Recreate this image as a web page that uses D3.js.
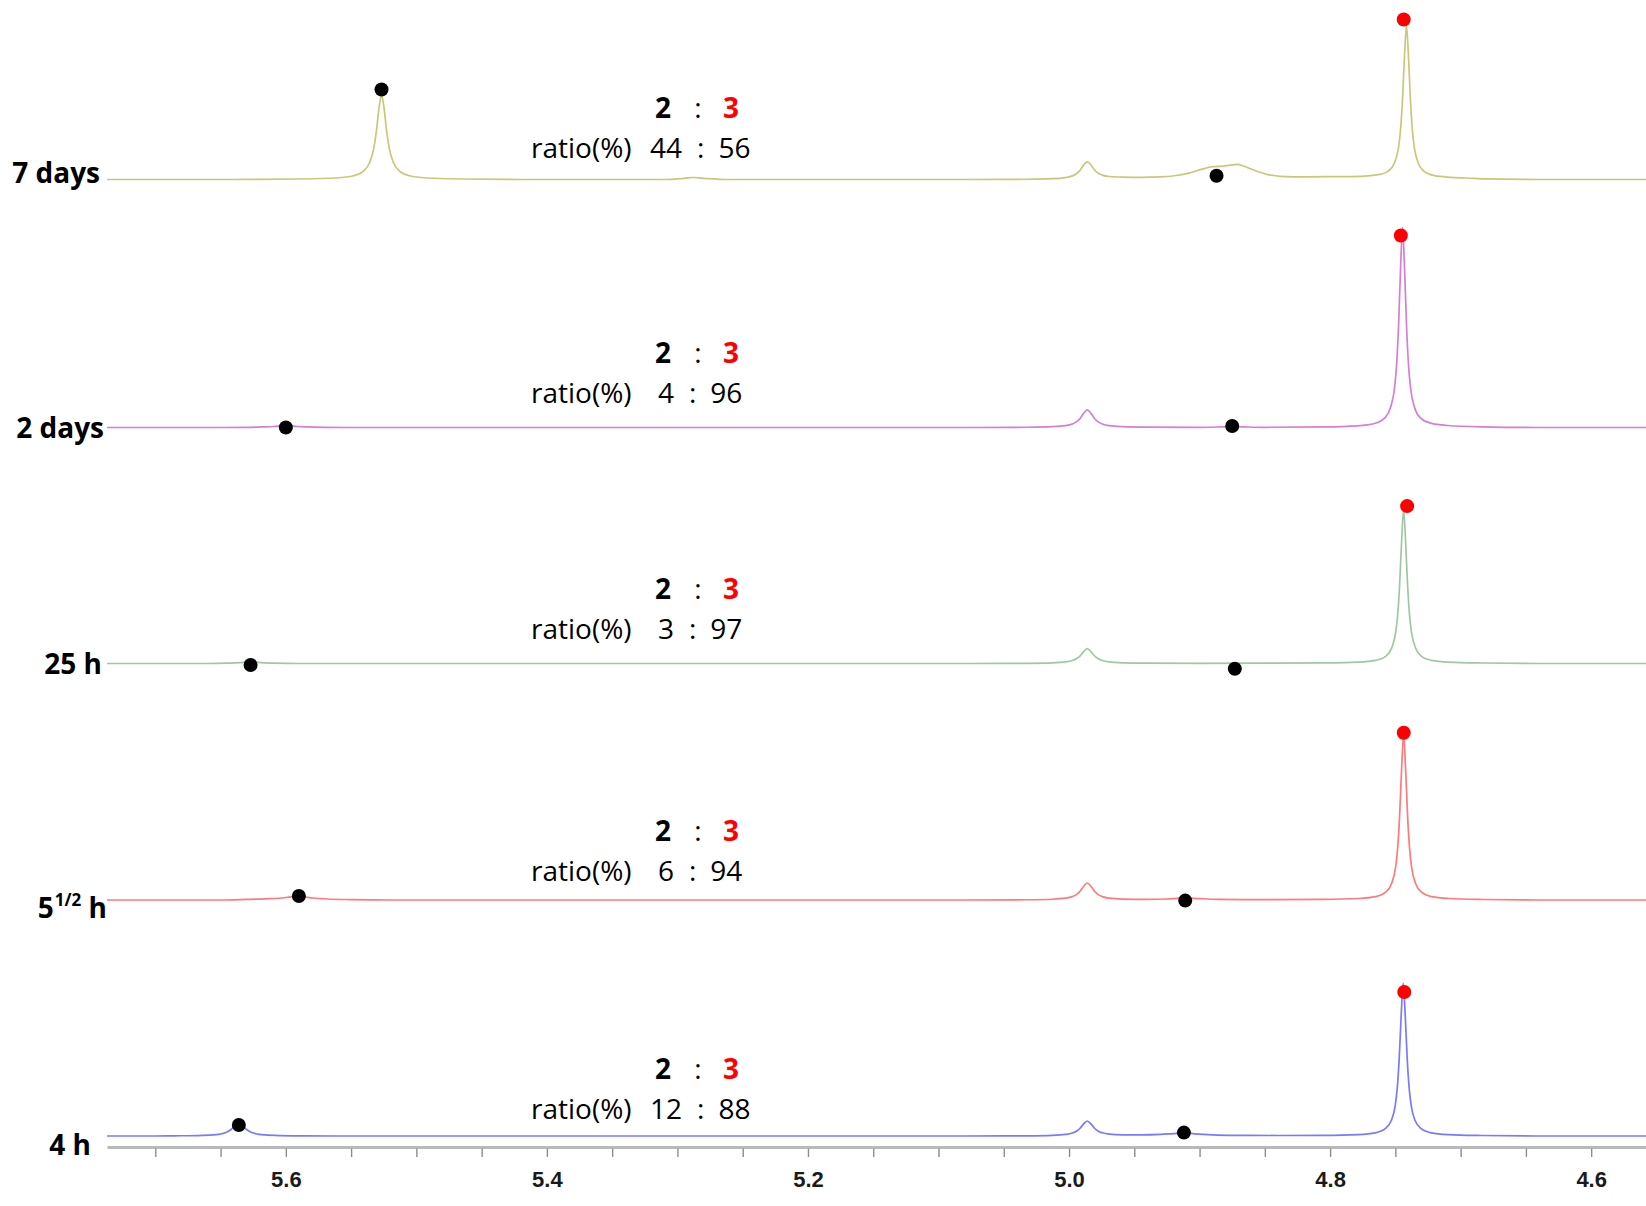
<!DOCTYPE html>
<html>
<head>
<meta charset="utf-8">
<script src="https://cdn.jsdelivr.net/npm/d3@7"></script>
<style>
  body { margin: 0; background: #fff; }
  svg { display: block; background: #fff; }
</style>
</head>
<body>
<div id="vis-container"></div>
<script>
const width = 1646;
const height = 1206;
const margin = { top: 0, right: 0, bottom: 59, left: 107 };

// spectra, top to bottom
const traces = ["7 days", "2 days", "25 h", "5½ h", "4 h"];
const ratio2 = [44, 4, 3, 6, 12];
const ratio3 = [56, 96, 97, 94, 88];

// [ppm, intensity] (intensity: tallest peak = 100)
const spec7d = [[5.737,0],[5.64,0],[5.5877,0.24],[5.5612,0.74],[5.5481,1.85],[5.5405,4.2],[5.5359,8.4],[5.5328,15.1],[5.5305,24.8],[5.5286,35.9],[5.5267,42.2],[5.5248,35.9],[5.5229,24.8],[5.5206,15.1],[5.5175,8.4],[5.5129,4.2],[5.5053,1.85],[5.4922,0.74],[5.4657,0.24],[5.42,0],[5.31,0],[5.295,0.6],[5.288,1.0],[5.28,0.6],[5.265,0],[5.08,0],[5.032,0.13],[5.0128,0.4],[5.0028,0.95],[4.9975,1.8],[4.9944,2.9],[4.9917,4.5],[4.9891,7.0],[4.986,8.8],[4.9829,7.0],[4.9803,4.6],[4.9776,3.1],[4.9745,2.2],[4.9692,1.5],[4.9592,1.2],[4.945,1.1],[4.93,1.3],[4.918,2.0],[4.908,3.2],[4.898,5.2],[4.89,6.4],[4.882,6.7],[4.875,7.3],[4.871,7.6],[4.866,6.6],[4.858,4.6],[4.849,2.7],[4.838,1.6],[4.82,1.3],[4.8025,1.4],[4.776,1.6],[4.7629,2.4],[4.7553,4.3],[4.7507,8.3],[4.7476,16],[4.7461,24.5],[4.7446,39],[4.743,62],[4.7415,77],[4.74,62],[4.7384,39],[4.7369,24.2],[4.7354,15.7],[4.7323,8],[4.7277,3.9],[4.7201,1.9],[4.707,1.1],[4.69,0.6],[4.6805,0.3],[4.64,0],[4.558,0]];
const spec2d = [[5.737,0],[5.65,0],[5.63,0.1],[5.618,0.3],[5.609,0.5],[5.604,0.8],[5.6,1.4],[5.596,0.8],[5.591,0.5],[5.582,0.3],[5.57,0.1],[5.55,0],[5.08,0],[5.032,0.13],[5.0128,0.39],[5.0028,0.92],[4.9975,1.76],[4.9944,2.8],[4.9917,4.4],[4.9891,6.8],[4.986,8.8],[4.9829,6.8],[4.9803,4.4],[4.9776,2.8],[4.9745,1.76],[4.9692,0.92],[4.9592,0.45],[4.94,0.2],[4.9,0.1],[4.875,0.4],[4.85,0.1],[4.8055,0.3],[4.779,0.85],[4.7659,2.0],[4.7583,4.7],[4.7537,10],[4.7506,20],[4.7491,31],[4.7476,50],[4.746,80],[4.7445,100],[4.743,80],[4.7414,50],[4.7399,31],[4.7384,20],[4.7353,10],[4.7307,4.7],[4.7231,2.2],[4.71,1.0],[4.6835,0.3],[4.64,0],[4.558,0]];
const spec25h = [[5.737,0],[5.66,0],[5.645,0.15],[5.635,0.4],[5.63,0.7],[5.627,1.0],[5.624,0.7],[5.619,0.4],[5.609,0.15],[5.59,0],[5.08,0],[5.032,0.11],[5.0128,0.33],[5.0028,0.78],[4.9975,1.5],[4.9944,2.4],[4.9917,3.7],[4.9891,5.7],[4.986,7.4],[4.9829,5.7],[4.9803,3.7],[4.9776,2.4],[4.9745,1.5],[4.9692,0.78],[4.9592,0.35],[4.94,0.15],[4.9,0.1],[4.85,0.15],[4.8047,0.3],[4.7782,0.7],[4.7651,1.6],[4.7575,3.6],[4.7529,7.7],[4.7498,15.4],[4.7483,23.9],[4.7468,38.5],[4.7452,61.6],[4.7437,77],[4.7422,61.6],[4.7406,38.5],[4.7391,23.9],[4.7376,15.4],[4.7345,7.7],[4.7299,3.6],[4.7223,1.6],[4.7092,0.7],[4.6827,0.25],[4.64,0],[4.558,0]];
const spec5h = [[5.737,0],[5.65,0],[5.63,0.3],[5.615,0.6],[5.603,1.0],[5.596,1.6],[5.591,2.0],[5.586,1.6],[5.579,1.0],[5.568,0.5],[5.55,0.2],[5.52,0],[5.08,0],[5.032,0.13],[5.0128,0.38],[5.0028,0.9],[4.9975,1.7],[4.9944,2.7],[4.9917,4.25],[4.9891,6.6],[4.986,8.5],[4.9829,6.6],[4.9803,4.25],[4.9776,2.7],[4.9745,1.7],[4.9692,0.9],[4.9592,0.45],[4.94,0.3],[4.925,0.5],[4.915,0.9],[4.91,1.0],[4.9,0.7],[4.885,0.35],[4.86,0.2],[4.8047,0.3],[4.7782,0.75],[4.7651,1.7],[4.7575,3.9],[4.7529,8.3],[4.7498,16.5],[4.7483,25.6],[4.7468,41.3],[4.7452,66],[4.7437,82.6],[4.7422,66],[4.7406,41.3],[4.7391,25.6],[4.7376,16.5],[4.7345,8.3],[4.7299,3.9],[4.7223,1.7],[4.7092,0.75],[4.6827,0.25],[4.64,0],[4.558,0]];
const spec4h = [[5.737,0],[5.70,0],[5.686,0.09],[5.668,0.22],[5.656,0.54],[5.649,1.14],[5.645,2.0],[5.642,3.25],[5.64,4.5],[5.638,5.85],[5.636,6.5],[5.634,5.85],[5.632,4.5],[5.63,3.25],[5.627,2.0],[5.623,1.14],[5.616,0.54],[5.604,0.22],[5.586,0.09],[5.56,0],[5.08,0],[5.032,0.11],[5.0128,0.34],[5.0028,0.8],[4.9975,1.5],[4.9944,2.4],[4.9917,3.75],[4.9891,5.8],[4.986,7.5],[4.9829,5.8],[4.9803,3.75],[4.9776,2.4],[4.9745,1.6],[4.9692,0.95],[4.9592,0.6],[4.945,0.55],[4.93,0.8],[4.92,1.2],[4.912,1.5],[4.904,1.1],[4.89,0.6],[4.87,0.35],[4.84,0.25],[4.805,0.3],[4.7785,0.7],[4.7654,1.6],[4.7578,3.7],[4.7532,7.6],[4.7501,15.3],[4.7486,23.7],[4.7471,38.2],[4.7455,61],[4.744,76.3],[4.7425,61],[4.7409,38.2],[4.7394,23.7],[4.7379,15.3],[4.7348,7.6],[4.7302,3.7],[4.7226,1.6],[4.7095,0.7],[4.683,0.25],[4.64,0],[4.558,0]];
const spectra = [spec7d, spec2d, spec25h, spec5h, spec4h];

// peak markers [ppm, intensity]: black = compound 2, red = compound 3
const dots2 = [[[5.5267,45],[4.887,1.9]], [[5.600,0],[4.875,0.75]], [[5.627,-0.75],[4.873,-2.6]], [[5.590,2],[4.911,-0.3]], [[5.636,5.5],[4.912,1.7]]];
const dots3 = [[4.7436,80], [4.7458,96], [4.741,78.7], [4.7436,83.6], [4.7432,72]];

// x axis
const tickValues = [5.7, 5.65, 5.6, 5.55, 5.5, 5.45, 5.4, 5.35, 5.3, 5.25, 5.2, 5.15, 5.1, 5.05, 5.0, 4.95, 4.9, 4.85, 4.8, 4.75, 4.7, 4.65, 4.6];
const tickLabels = [5.6, 5.4, 5.2, 5.0, 4.8, 4.6];

// layout of the stacked rows
const baselines = [179.5, 427.5, 663.5, 900, 1136];
const labelEnd = [100, 104, 102, 107, 91];
const labelDy = [3.5, 10.5, 10.5, 18, 19];
const noteY = [108, 353, 589, 831, 1069];

const svg = d3.select("#vis-container")
    .append("svg")
    .attr("width", width)
    .attr("height", height);

const x = d3.scaleLinear()
    .domain([5.737, 4.558])
    .range([margin.left, width - margin.right]);

const base = d3.scaleOrdinal().domain(traces).range(baselines);
const amp = d3.scaleLinear().domain([0, 100]).range([0, 200]);
const colour = d3.scaleOrdinal()
    .domain(traces)
    .range(["#c8c87a", "#d67ed6", "#a0c8a0", "#ff7a7a", "#7a7aff"]);

// Axis
const axisG = svg.append("g")
    .attr("transform", `translate(0,${height - margin.bottom})`)
    .call(d3.axisBottom(x)
        .tickValues(tickValues)
        .tickSize(9)
        .tickSizeOuter(0)
        .tickPadding(15)
        .tickFormat(d => tickLabels.includes(d) ? d3.format(".1f")(d) : ""));
axisG.select(".domain").attr("stroke", "#b9b9b9").attr("stroke-width", 3);
axisG.selectAll(".tick line").attr("stroke", "#8c8c8c").attr("stroke-width", 1.4).attr("y1", 1.5).attr("y2", 10);
axisG.selectAll(".tick text")
    .attr("fill", "#1a1a1a")
    .attr("font-family", "'Liberation Sans Narrow', 'Liberation Sans', sans-serif")
    .attr("font-weight", "bold")
    .attr("font-size", "22px");

// Spectra
traces.forEach((t, i) => {
    const line = d3.line()
        .x(d => x(d[0]))
        .y(d => base(t) - amp(d[1]))
        .curve(d3.curveMonotoneX);

    svg.append("path")
        .datum(spectra[i])
        .attr("fill", "none")
        .attr("stroke", colour(t))
        .attr("stroke-width", 1.7)
        .attr("stroke-linejoin", "round")
        .attr("d", line);

    // black markers
    svg.append("g")
        .selectAll("circle")
        .data(dots2[i])
        .enter()
        .append("circle")
            .attr("cx", d => x(d[0]))
            .attr("cy", d => base(t) - amp(d[1]))
            .attr("r", 7)
            .attr("fill", "#000");

    // red marker
    svg.append("circle")
        .attr("cx", x(dots3[i][0]))
        .attr("cy", base(t) - amp(dots3[i][1]))
        .attr("r", 7)
        .attr("fill", "#ff0000");
});

// Row labels
const font = "'Open Sans', 'Noto Sans', sans-serif";
traces.forEach((t, i) => {
    const lab = svg.append("text")
        .attr("x", labelEnd[i])
        .attr("y", base(t) + labelDy[i])
        .attr("text-anchor", "end")
        .attr("font-family", font)
        .attr("font-weight", "bold")
        .attr("font-size", "28px")
        .attr("fill", "#000");
    if (t === "5½ h") {
        lab.append("tspan").text("5");
        lab.append("tspan").attr("font-size", "17px").attr("dy", -12).attr("dx", 1).text("1/2");
        lab.append("tspan").attr("dy", 12).text(" h");
    } else {
        lab.text(t);
    }
});

// Ratio notes
traces.forEach((t, i) => {
    const g = svg.append("g")
        .attr("font-family", font)
        .attr("font-size", "28px")
        .attr("fill", "#000");
    const y1 = noteY[i];
    const y2 = noteY[i] + 39.5;

    g.append("text").attr("x", 663).attr("y", y1).attr("dy", "0.36em")
        .attr("text-anchor", "middle").attr("font-weight", "bold").text("2");
    g.append("text").attr("x", 698).attr("y", y1).attr("dy", "0.36em")
        .attr("text-anchor", "middle").text(":");
    g.append("text").attr("x", 731).attr("y", y1).attr("dy", "0.36em")
        .attr("text-anchor", "middle").attr("font-weight", "bold").attr("fill", "#ff0000").text("3");

    g.append("text").attr("x", 531).attr("y", y2).attr("dy", "0.36em").text("ratio(%)");
    const n1 = g.append("text").attr("x", 666).attr("y", y2).attr("dy", "0.36em")
        .attr("text-anchor", "middle").text(ratio2[i]);
    const w1 = n1.node().getComputedTextLength();
    const colonX = 666 + w1 / 2 + 15;
    const c = g.append("text").attr("x", colonX).attr("y", y2).attr("dy", "0.36em").text(":");
    const wc = c.node().getComputedTextLength();
    g.append("text").attr("x", colonX + wc + 14).attr("y", y2).attr("dy", "0.36em").text(ratio3[i]);
});
</script>
</body>
</html>
